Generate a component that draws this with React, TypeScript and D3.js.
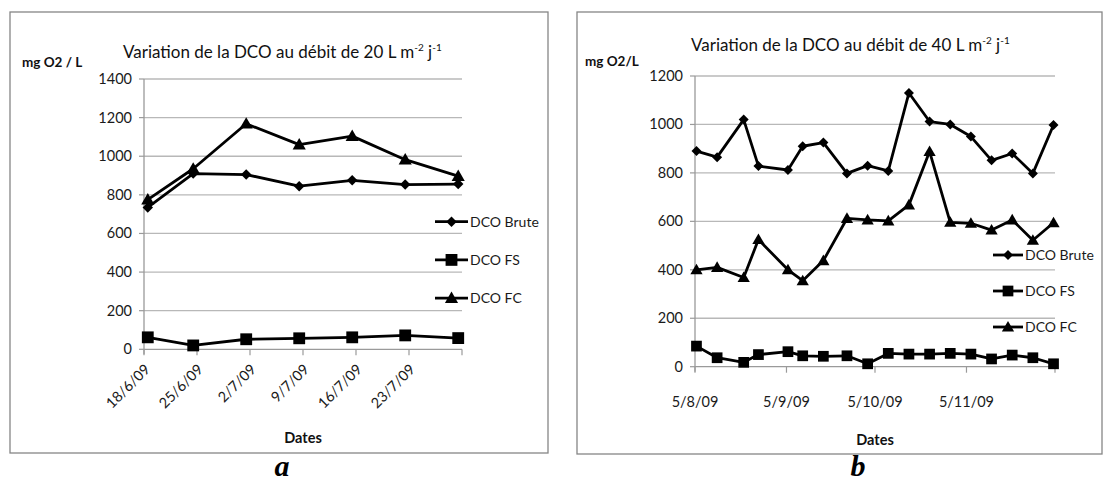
import React from "react";
import * as d3 from "d3";

// ---------- Data ----------
const seriesNames = ["DCO Brute", "DCO FS", "DCO FC"];

// Chart a : 20 L m-2 j-1
const datesA = ["2009-06-18", "2009-06-24", "2009-07-01", "2009-07-08", "2009-07-15", "2009-07-22", "2009-07-29"];
const bruteA = [735, 910, 905, 845, 875, 853, 856];
const fsA = [62, 20, 52, 57, 62, 72, 58];
const fcA = [775, 935, 1168, 1060, 1104, 982, 897];
const xTicksA = ["18/6/09", "25/6/09", "2/7/09", "9/7/09", "16/7/09", "23/7/09", "30/7/09"];
const yTicksA = [0, 200, 400, 600, 800, 1000, 1200, 1400];

// Chart b : 40 L m-2 j-1
const datesB = [
  "2009-08-05", "2009-08-12", "2009-08-21", "2009-08-26", "2009-09-05", "2009-09-10",
  "2009-09-17", "2009-09-25", "2009-10-02", "2009-10-09", "2009-10-16", "2009-10-23",
  "2009-10-30", "2009-11-06", "2009-11-13", "2009-11-20", "2009-11-27", "2009-12-04",
];
const bruteB = [890, 865, 1020, 828, 812, 910, 925, 798, 830, 808, 1130, 1012, 1000, 950, 852, 880, 798, 998];
const fsB = [85, 37, 18, 50, 62, 45, 43, 45, 12, 55, 52, 52, 55, 52, 32, 48, 37, 12];
const fcB = [400, 410, 368, 525, 400, 355, 438, 612, 606, 602, 668, 888, 596, 592, 564, 606, 522, 594];
const xTicksB = ["5/8/09", "5/9/09", "5/10/09", "5/11/09", "5/12/09"];
const yTicksB = [0, 200, 400, 600, 800, 1000, 1200];

const FONT = "Lato, 'Open Sans', sans-serif";
const parseISO = d3.timeParse("%Y-%m-%d");
const parseTick = d3.timeParse("%d/%m/%y");
const noon = (s: string) => d3.timeHour.offset(parseISO(s) as Date, 12);

type Cfg = {
  frame: { x: number; y: number; w: number; h: number };
  px: [number, number];
  py: [number, number];
  dates: string[];
  series: number[][];
  xTicks: string[];
  yTicks: number[];
  rotate: boolean;
  title: string;
  titleX: number;
  titleY: number;
  yTitle: string;
  yTitleX: number;
  yTitleY: number;
  xTitleX: number;
  xTitleY: number;
  legend: { x0: number; x1: number; tx: number; y0: number; dy: number };
  sq: number;
  tri: number;
  dia: number;
  letter: string;
  letterX: number;
  letterY: number;
};

const cfgA: Cfg = {
  frame: { x: 10, y: 12, w: 538, h: 441 },
  px: [144, 462],
  py: [349.3, 79],
  dates: datesA,
  series: [bruteA, fsA, fcA],
  xTicks: xTicksA,
  yTicks: yTicksA,
  rotate: true,
  title: "Variation de la DCO au débit de 20 L m",
  titleX: 123,
  titleY: 58,
  yTitle: "mg O2 / L",
  yTitleX: 22,
  yTitleY: 67,
  xTitleX: 303,
  xTitleY: 443,
  legend: { x0: 435, x1: 468, tx: 470, y0: 221.7, dy: 38.2 },
  sq: 140,
  tri: 75,
  dia: 55,
  letter: "a",
  letterX: 282,
  letterY: 476,
};

const cfgB: Cfg = {
  frame: { x: 577, y: 12, w: 525, h: 442 },
  px: [695, 1055],
  py: [366.7, 76],
  dates: datesB,
  series: [bruteB, fsB, fcB],
  xTicks: xTicksB,
  yTicks: yTicksB,
  rotate: false,
  title: "Variation de la DCO au débit de 40 L m",
  titleX: 691,
  titleY: 51,
  yTitle: "mg O2/L",
  yTitleX: 585,
  yTitleY: 66,
  xTitleX: 875,
  xTitleY: 445,
  legend: { x0: 993, x1: 1023, tx: 1025, y0: 255, dy: 36 },
  sq: 115,
  tri: 65,
  dia: 50,
  letter: "b",
  letterX: 858,
  letterY: 476,
};

function Marker({ kind, x, y, c }: { kind: number; x: number; y: number; c: Cfg }) {
  if (kind === 0) {
    const p = d3.symbol().type(d3.symbolSquare).size(c.dia)() as string;
    return <path d={p} transform={`translate(${x},${y}) rotate(45)`} fill="#000" />;
  }
  if (kind === 1) {
    const p = d3.symbol().type(d3.symbolSquare).size(c.sq)() as string;
    return <path d={p} transform={`translate(${x},${y})`} fill="#000" />;
  }
  const p = d3.symbol().type(d3.symbolTriangle).size(c.tri)() as string;
  return <path d={p} transform={`translate(${x},${y + 1})`} fill="#000" />;
}

function Chart({ c }: { c: Cfg }) {
  const tickDates = c.xTicks.map((t) => parseTick(t) as Date);
  const x = d3.scaleTime().domain([tickDates[0], tickDates[tickDates.length - 1]]).range(c.px);
  const yMax = c.yTicks[c.yTicks.length - 1];
  const y = d3.scaleLinear().domain([0, yMax]).range(c.py);
  const pts = c.dates.map(noon);
  const line = d3
    .line<number>()
    .x((_, i) => x(pts[i]))
    .y((v) => y(v));
  const y0 = y(0);
  const f = c.frame;
  return (
    <g>
      <rect x={f.x} y={f.y} width={f.w} height={f.h} fill="#fff" stroke="#868686" strokeWidth={1.3} />
      {/* grid */}
      {c.yTicks.map((t) => (
        <g key={"g" + t}>
          {t > 0 && <line x1={c.px[0]} x2={c.px[1]} y1={y(t)} y2={y(t)} stroke="#b8b8b8" strokeWidth={1.3} />}
          <line x1={c.px[0] - 5} x2={c.px[0]} y1={y(t)} y2={y(t)} stroke="#9a9a9a" strokeWidth={1.2} />
          <text x={c.px[0] - 12} y={y(t) + 5} textAnchor="end" fontSize={14.5} fontFamily={FONT} fill="#1a1a1a">
            {t}
          </text>
        </g>
      ))}
      {/* axes */}
      <line x1={c.px[0]} x2={c.px[0]} y1={c.py[1]} y2={y0 + 5} stroke="#9a9a9a" strokeWidth={1.3} />
      <line x1={c.px[0]} x2={c.px[1]} y1={y0} y2={y0} stroke="#9a9a9a" strokeWidth={1.3} />
      {tickDates.map((d, i) => (
        <g key={"xt" + i}>
          <line x1={x(d)} x2={x(d)} y1={y0} y2={y0 + 6} stroke="#9a9a9a" strokeWidth={1.2} />
          {i < tickDates.length - 1 &&
            (c.rotate ? (
              <text
                transform={`translate(${x(d) + 7},${y0 + 21}) rotate(-45)`}
                textAnchor="end"
                fontSize={14.5}
                fontFamily={FONT}
                fill="#1a1a1a"
              >
                {c.xTicks[i]}
              </text>
            ) : (
              <text x={x(d)} y={y0 + 40} textAnchor="middle" fontSize={14.5} fontFamily={FONT} fill="#1a1a1a">
                {c.xTicks[i]}
              </text>
            ))}
        </g>
      ))}
      {/* series */}
      {c.series.map((s, k) => (
        <g key={"s" + k}>
          <path d={line(s) as string} fill="none" stroke="#000" strokeWidth={2.8} strokeLinejoin="round" />
          {s.map((v, i) => (
            <Marker key={i} kind={k} x={x(pts[i])} y={y(v)} c={c} />
          ))}
        </g>
      ))}
      {/* legend */}
      {seriesNames.map((n, k) => {
        const ly = c.legend.y0 + k * c.legend.dy;
        return (
          <g key={"l" + k}>
            <line x1={c.legend.x0} x2={c.legend.x1} y1={ly} y2={ly} stroke="#000" strokeWidth={2.8} />
            <Marker kind={k} x={(c.legend.x0 + c.legend.x1) / 2} y={ly} c={c} />
            <text x={c.legend.tx} y={ly + 5} fontSize={14} fontFamily={FONT} fill="#1a1a1a">
              {n}
            </text>
          </g>
        );
      })}
      {/* titles */}
      <text x={c.titleX} y={c.titleY} fontSize={17} fontFamily={FONT} fill="#111">
        <tspan>{c.title}</tspan>
        <tspan fontSize={10} dy={-7}>-2</tspan>
        <tspan fontSize={17} dy={7}> j</tspan>
        <tspan fontSize={10} dy={-7}>-1</tspan>
      </text>
      <text x={c.yTitleX} y={c.yTitleY} fontSize={13.5} fontWeight={700} fontFamily={FONT} fill="#111">
        {c.yTitle}
      </text>
      <text x={c.xTitleX} y={c.xTitleY} textAnchor="middle" fontSize={14.5} fontWeight={700} fontFamily={FONT} fill="#111">
        Dates
      </text>
      <text
        x={c.letterX}
        y={c.letterY}
        textAnchor="middle"
        fontSize={30}
        fontWeight={700}
        fontStyle="italic"
        fontFamily="'Liberation Serif', 'Times New Roman', serif"
        fill="#000"
      >
        {c.letter}
      </text>
    </g>
  );
}

export default function App() {
  return (
    <svg
      width={1105}
      height={484}
      viewBox="0 0 1105 484"
      style={{ position: "absolute", left: 0, top: 0, background: "#fff" }}
    >
      <rect width={1105} height={484} fill="#fff" />
      <Chart c={cfgA} />
      <Chart c={cfgB} />
    </svg>
  );
}
